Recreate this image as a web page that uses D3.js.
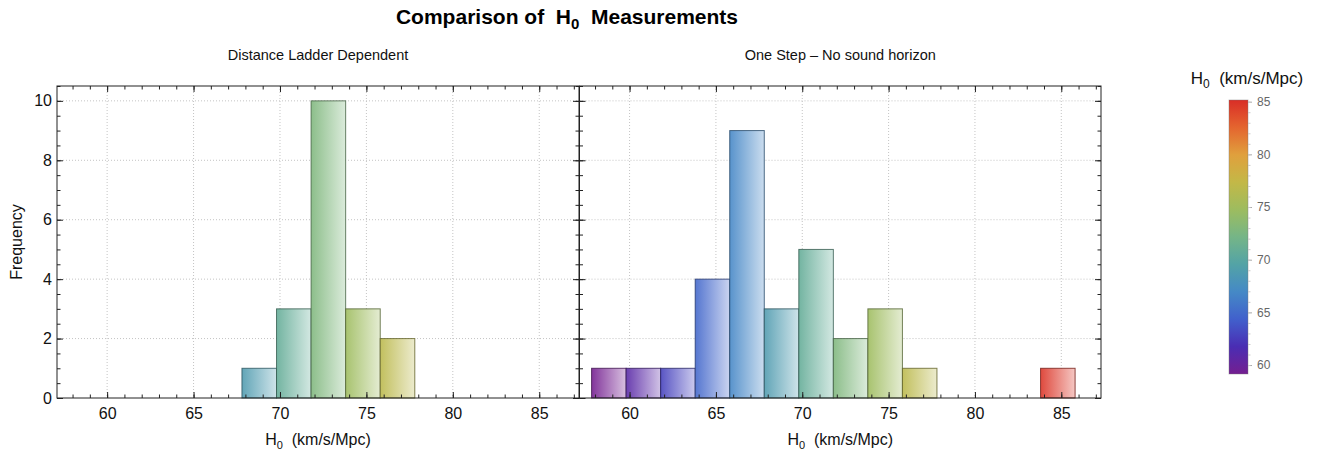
<!DOCTYPE html>
<html>
<head>
<meta charset="utf-8">
<script src="https://cdn.jsdelivr.net/npm/d3@7"></script>
<style>
  body { margin: 0; background: #fff; }
  text { font-family: "Liberation Sans", Arial, sans-serif; }
</style>
</head>
<body>
<svg id="chart" width="1335" height="454"></svg>
<script>
// histogram bins (left edge of each 2-wide bin) and counts
var binWidth = 2;
var ladderBins = [67.8, 69.8, 71.8, 73.8, 75.8];
var ladderCounts = [1, 3, 10, 3, 2];
var oneStepBins = [57.8, 59.8, 61.8, 63.8, 65.8, 67.8, 69.8, 71.8, 73.8, 75.8, 83.8];
var oneStepCounts = [1, 1, 1, 4, 9, 3, 5, 2, 3, 1, 1];

var xTicks = [60, 65, 70, 75, 80, 85];
var yTicks = [0, 2, 4, 6, 8, 10];
var colorTicks = [60, 65, 70, 75, 80, 85];
var colorRange = [59.15, 85.16];

// rainbow-ish colour function sampled from the bar legend
var rainbow = ["#741f90", "#4a2db3", "#4160cc", "#4589c6", "#53a3a6", "#75b587",
               "#9dbc5f", "#c3b847", "#e0a03d", "#e4652f", "#d92e27"];

var svg = d3.select("#chart");
var defs = svg.append("defs");

var colorT = d3.scaleLinear().domain(colorRange).range([0, 1]).clamp(true);
var colorScale = d3.scaleLinear()
  .domain(d3.range(rainbow.length).map(i => i / (rainbow.length - 1)))
  .range(rainbow)
  .interpolate(d3.interpolateRgb);
function colorOf(v) { return colorScale(colorT(v)); }

var plotTop = 86, plotBottom = 398;
var y = d3.scaleLinear().domain([0, 10.5]).range([plotBottom, plotTop]);

var gradId = 0;
function drawPanel(x0, x1, bins, counts, title, showYLabels) {
  var x = d3.scaleLinear().domain([57.1, 87.3]).range([x0, x1]);
  var g = svg.append("g");

  // dotted grid
  g.selectAll(".gx").data(xTicks).enter().append("line")
    .attr("x1", d => x(d)).attr("x2", d => x(d))
    .attr("y1", plotTop).attr("y2", plotBottom)
    .attr("stroke", "#c4c4c4").attr("stroke-dasharray", "1,2");
  g.selectAll(".gy").data(yTicks.slice(1)).enter().append("line")
    .attr("x1", x0).attr("x2", x1)
    .attr("y1", d => y(d)).attr("y2", d => y(d))
    .attr("stroke", "#c4c4c4").attr("stroke-dasharray", "1,2");

  // bars with horizontal gradient
  var data = bins.map((b, i) => ({ start: b, count: counts[i] }));
  data.forEach(function(d) {
    var c = colorOf(d.start + binWidth / 2);
    d.color = c;
    d.grad = "grad" + (gradId++);
    var lg = defs.append("linearGradient").attr("id", d.grad)
      .attr("x1", 0).attr("x2", 1).attr("y1", 0).attr("y2", 0);
    lg.append("stop").attr("offset", 0).attr("stop-color", d3.interpolateRgb(c, "#fff")(0.1));
    lg.append("stop").attr("offset", 1).attr("stop-color", d3.interpolateRgb(c, "#fff")(0.72));
  });
  g.selectAll("rect.bar").data(data).enter().append("rect")
    .attr("class", "bar")
    .attr("x", d => x(d.start))
    .attr("width", d => x(d.start + binWidth) - x(d.start))
    .attr("y", d => y(d.count))
    .attr("height", d => y(0) - y(d.count))
    .attr("fill", d => "url(#" + d.grad + ")")
    .attr("stroke", d => d3.rgb(d.color).darker(1.8))
    .attr("stroke-opacity", 0.8)
    .attr("stroke-width", 1);

  // ticks on all four sides, pointing inward
  var minorX = d3.range(58, 88, 1);
  var minorY = d3.range(0, 10.51, 0.5);

  g.append("g").attr("transform", `translate(0,${plotBottom})`)
    .call(d3.axisBottom(x).tickValues(xTicks).tickSizeInner(-6).tickSizeOuter(0).tickPadding(10));
  g.append("g").attr("transform", `translate(0,${plotBottom})`)
    .call(d3.axisBottom(x).tickValues(minorX).tickSize(-3.5).tickFormat(""));
  g.append("g").attr("transform", `translate(0,${plotTop})`)
    .call(d3.axisTop(x).tickValues(xTicks).tickSize(-6).tickFormat(""));
  g.append("g").attr("transform", `translate(0,${plotTop})`)
    .call(d3.axisTop(x).tickValues(minorX).tickSize(-3.5).tickFormat(""));

  var ly = g.append("g").attr("transform", `translate(${x0},0)`)
    .call(d3.axisLeft(y).tickValues(yTicks).tickSizeInner(-6).tickSizeOuter(0).tickPadding(5));
  if (!showYLabels) ly.selectAll("text").remove();
  g.append("g").attr("transform", `translate(${x0},0)`)
    .call(d3.axisLeft(y).tickValues(minorY).tickSize(-3.5).tickFormat(""));
  g.append("g").attr("transform", `translate(${x1},0)`)
    .call(d3.axisRight(y).tickValues(yTicks).tickSize(-6).tickFormat(""));
  g.append("g").attr("transform", `translate(${x1},0)`)
    .call(d3.axisRight(y).tickValues(minorY).tickSize(-3.5).tickFormat(""));

  g.selectAll(".domain").remove();
  g.selectAll(".tick line").attr("stroke", "#222");
  g.selectAll(".tick text").attr("font-size", "16px").attr("fill", "#111")
    .style("font-family", "'Liberation Sans', Arial, sans-serif");

  // frame
  g.append("rect").attr("x", x0).attr("y", plotTop)
    .attr("width", x1 - x0).attr("height", plotBottom - plotTop)
    .attr("fill", "none").attr("stroke", "#222").attr("stroke-width", 1);

  // panel title
  g.append("text").attr("x", (x0 + x1) / 2).attr("y", 60)
    .attr("text-anchor", "middle").attr("font-size", "14.5px").attr("fill", "#111")
    .text(title);

  // x label
  var xl = g.append("text").attr("x", (x0 + x1) / 2).attr("y", 445)
    .attr("text-anchor", "middle").attr("font-size", "16px").attr("fill", "#111");
  xl.append("tspan").text("H");
  xl.append("tspan").attr("font-size", "11px").attr("dy", 4).text("0");
  xl.append("tspan").attr("dy", -4).text("\u00a0 (km/s/Mpc)");
}

drawPanel(57, 579, ladderBins, ladderCounts, "Distance Ladder Dependent", true);
drawPanel(579.5, 1101, oneStepBins, oneStepCounts, "One Step \u2013 No sound horizon", false);

// y label
svg.append("text")
  .attr("transform", "translate(22,242) rotate(-90)")
  .attr("text-anchor", "middle").attr("font-size", "16px").attr("fill", "#111")
  .text("Frequency");

// main title
var t = svg.append("text").attr("x", 567).attr("y", 24)
  .attr("text-anchor", "middle").attr("font-size", "21px").attr("font-weight", "bold").attr("fill", "#000");
t.append("tspan").text("Comparison of\u00a0 H");
t.append("tspan").attr("font-size", "15px").attr("dy", 5).text("0");
t.append("tspan").attr("dy", -5).text("\u00a0 Measurements");

// colour bar legend
var cbX = 1229, cbW = 19, cbTop = 100, cbBottom = 374;
var cb = d3.scaleLinear().domain(colorRange).range([cbBottom, cbTop]);
var vg = defs.append("linearGradient").attr("id", "cbgrad")
  .attr("x1", 0).attr("x2", 0).attr("y1", 1).attr("y2", 0);
d3.range(0, 1.001, 0.05).forEach(function(s) {
  vg.append("stop").attr("offset", s).attr("stop-color", colorScale(s));
});
svg.append("rect").attr("x", cbX).attr("y", cbTop).attr("width", cbW).attr("height", cbBottom - cbTop)
  .attr("fill", "url(#cbgrad)").attr("stroke", "#777").attr("stroke-opacity", 0.5).attr("stroke-width", 0.8);

var cbAxis = svg.append("g").attr("transform", `translate(${cbX + cbW},0)`)
  .call(d3.axisRight(cb).tickValues(colorTicks).tickSize(4).tickPadding(5));
var cbMinor = svg.append("g").attr("transform", `translate(${cbX + cbW},0)`)
  .call(d3.axisRight(cb).tickValues(d3.range(60, 86, 1)).tickSize(2.5).tickFormat(""));
svg.selectAll(".domain").remove();
cbAxis.selectAll(".tick line").attr("stroke", "#aaa");
cbMinor.selectAll(".tick line").attr("stroke", "#ccc");
cbAxis.selectAll(".tick text").attr("font-size", "12px").attr("fill", "#666")
  .style("font-family", "'Liberation Sans', Arial, sans-serif");

var ct = svg.append("text").attr("x", 1247).attr("y", 84)
  .attr("text-anchor", "middle").attr("font-size", "17px").attr("fill", "#111");
ct.append("tspan").text("H");
ct.append("tspan").attr("font-size", "12px").attr("dy", 4).text("0");
ct.append("tspan").attr("dy", -4).text("\u00a0 (km/s/Mpc)");
</script>
</body>
</html>
